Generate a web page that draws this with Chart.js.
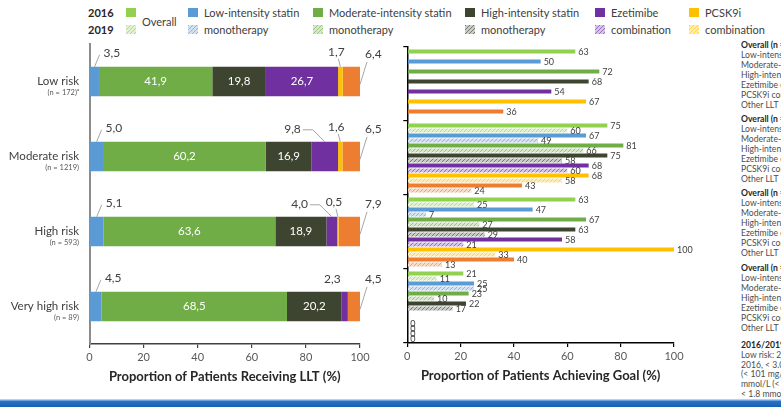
<!DOCTYPE html>
<html>
<head>
<meta charset="utf-8">
<script src="https://cdn.jsdelivr.net/npm/chart.js@4.4.1/dist/chart.umd.min.js"></script>
<style>
  html, body { margin: 0; padding: 0; background: #fff; }
  body { width: 781px; height: 407px; overflow: hidden; position: relative;
         font-family: Lato, "Open Sans", sans-serif; color: #404040; }
  .yr { position: absolute; left: 88px; font-weight: bold; font-size: 11px; color: #262626; line-height: 13px; }
  .sw { position: absolute; width: 10px; height: 9px; }
  .lt { position: absolute; font-size: 11px; line-height: 13px; white-space: nowrap; color: #404040; }
  #leftWrap { position: absolute; left: 0; top: 0; width: 395px; height: 400px; }
  #rightWrap { position: absolute; left: 395px; top: 0; width: 345px; height: 400px; }
  .note { position: absolute; left: 741px; font-size: 8.6px; line-height: 10px; white-space: nowrap; color: #4d4d4d; }
  .note.b { font-weight: bold; color: #262626; }
  #band { position: absolute; left: 0; top: 399px; width: 781px; height: 8px;
          background: linear-gradient(#b3d1f0 0, #b3d1f0 1px, #2a74c6 2px, #1762b5 100%); }
</style>
</head>
<body>
<div id="legend"></div>
<div id="leftWrap"><canvas id="llt" width="395" height="400"></canvas></div>
<div id="rightWrap"><canvas id="goal" width="345" height="400"></canvas></div>
<div id="notes"></div>
<div id="band"></div>

<script>
// ---- categories ----
const riskGroups = ['Low risk', 'Moderate risk', 'High risk', 'Very high risk'];
const groupSizes = ['(n = 172)ᵃ', '(n = 1219)', '(n = 593)', '(n = 89)'];
const therapies = ['Low-intensity statin monotherapy', 'Moderate-intensity statin monotherapy',
                   'High-intensity statin monotherapy', 'Ezetimibe combination',
                   'PCSK9i combination', 'Other LLT'];
const years = ['2016', '2019'];

// ---- share of patients on each therapy (%), per risk group ----
const shareLowIntensity  = [3.5, 5.0, 5.1, 4.5];
const shareModIntensity  = [41.9, 60.2, 63.6, 68.5];
const shareHighIntensity = [19.8, 16.9, 18.9, 20.2];
const shareEzetimibe     = [26.7, 9.8, 4.0, 2.3];
const sharePcsk9i        = [1.7, 1.6, 0.5, 0];
const shareOther         = [6.4, 6.5, 7.9, 4.5];

// ---- patients achieving goal (%), 2016 and 2019, per risk group ----
const goalOverall2016       = [63, 75, 63, 21];
const goalOverall2019       = [null, 60, 25, 11];
const goalLowIntensity2016  = [50, 67, 47, 25];
const goalLowIntensity2019  = [null, 49, 7, 25];
const goalModIntensity2016  = [72, 81, 67, 23];
const goalModIntensity2019  = [null, 66, 27, 10];
const goalHighIntensity2016 = [68, 75, 63, 22];
const goalHighIntensity2019 = [null, 58, 29, 17];
const goalEzetimibe2016     = [54, 68, 58, null];
const goalEzetimibe2019     = [null, 60, 21, null];
const goalPcsk9i2016        = [67, 68, 100, 0];
const goalPcsk9i2019        = [null, 58, 33, 0];
const goalOther2016         = [36, 43, 40, 0];
const goalOther2019         = [null, 24, 13, 0];

// ---- axis ticks ----
const percentTicks = [0, 20, 40, 60, 80, 100];

// ---- colours ----
const colOverall = '#92d050', colLow = '#5b9bd5', colMod = '#70ad47', colHigh = '#3d4530',
      colEze = '#7030a0', colPcsk = '#ffc000', colOther = '#ed7d31';

const FONT = 'Lato, "Open Sans", sans-serif';

// light speckled tile used for the 2019 bars
function hatchTile(color) {
  const c = document.createElement('canvas');
  c.width = 4; c.height = 4;
  const g = c.getContext('2d');
  g.fillStyle = '#fff'; g.fillRect(0, 0, 4, 4);
  g.fillStyle = color;
  g.globalAlpha = 0.28; g.fillRect(0, 0, 4, 4);
  g.globalAlpha = 0.6;
  g.fillRect(0, 0, 1, 1); g.fillRect(2, 2, 1, 1); g.fillRect(1, 3, 1, 1); g.fillRect(3, 1, 1, 1);
  return c;
}

// ---- legend ----
const legendItems = [
  { color: colOverall, lines: ['Overall'], sx: 126 },
  { color: colLow,     lines: ['Low-intensity statin', 'monotherapy'], sx: 188 },
  { color: colMod,     lines: ['Moderate-intensity statin', 'monotherapy'], sx: 313 },
  { color: colHigh,    lines: ['High-intensity statin', 'monotherapy'], sx: 465 },
  { color: colEze,     lines: ['Ezetimibe', 'combination'], sx: 595 },
  { color: colPcsk,    lines: ['PCSK9i', 'combination'], sx: 689 }
];
(function buildLegend() {
  const lg = document.getElementById('legend');
  years.forEach((y, i) => {
    const d = document.createElement('div');
    d.className = 'yr'; d.textContent = y; d.style.top = (i ? 23 : 6) + 'px';
    lg.appendChild(d);
  });
  legendItems.forEach(it => {
    const s1 = document.createElement('div');
    s1.className = 'sw'; s1.style.left = it.sx + 'px'; s1.style.top = '8px'; s1.style.background = it.color;
    const s2 = document.createElement('div');
    s2.className = 'sw'; s2.style.left = it.sx + 'px'; s2.style.top = '25px';
    s2.style.backgroundImage = 'url(' + hatchTile(it.color).toDataURL() + ')';
    lg.appendChild(s1); lg.appendChild(s2);
    if (it.lines.length === 1) {
      const t = document.createElement('div');
      t.className = 'lt'; t.textContent = it.lines[0];
      t.style.left = (it.sx + 16) + 'px'; t.style.top = '15px';
      lg.appendChild(t);
    } else {
      it.lines.forEach((ln, k) => {
        const t = document.createElement('div');
        t.className = 'lt'; t.textContent = ln;
        t.style.left = (it.sx + 16) + 'px'; t.style.top = (k ? 23 : 6) + 'px';
        lg.appendChild(t);
      });
    }
  });
})();

// ---- side notes ----
const noteGroupLines = ['Overall (n = )', 'Low-intensity statin', 'Moderate-intensity statin',
  'High-intensity statin', 'Ezetimibe combination', 'PCSK9i combination', 'Other LLT'];
const noteGroupTops = [40, 114, 188, 263];
const goalNoteLines = ['2016/2019 LDL-C goals', 'Low risk: 2019, < 3.0 mmol/L;', '2016, < 3.0 mmol/L',
  '(< 101 mg/dL); moderate risk', 'mmol/L (< 116 mg/dL); high risk', '< 1.8 mmol/L (< 70 mg/dL)'];
(function buildNotes() {
  const box = document.getElementById('notes');
  noteGroupTops.forEach(top => {
    noteGroupLines.forEach((ln, k) => {
      const d = document.createElement('div');
      d.className = 'note' + (k === 0 ? ' b' : '');
      d.textContent = ln; d.style.top = (top + k * 10) + 'px';
      box.appendChild(d);
    });
  });
  goalNoteLines.forEach((ln, k) => {
    const d = document.createElement('div');
    d.className = 'note' + (k === 0 ? ' b' : '');
    d.textContent = ln; d.style.top = (340 + k * 9.8) + 'px';
    box.appendChild(d);
  });
})();

// ---- left chart: value labels and category labels ----
function fmtComma(v) { return v.toFixed(1).replace('.', ','); }

const lltLabels = {
  id: 'lltLabels',
  afterDatasetsDraw(chart) {
    const ctx = chart.ctx;
    ctx.save();
    ctx.textBaseline = 'middle';
    chart.data.datasets.forEach((ds, i) => {
      const meta = chart.getDatasetMeta(i);
      meta.data.forEach((el, j) => {
        const v = ds.data[j];
        if (!v) return;
        const left = Math.min(el.x, el.base), right = Math.max(el.x, el.base);
        const cx = (left + right) / 2, top = el.y - el.height / 2;
        const txt = fmtComma(v);
        if (v >= 10) {
          ctx.font = '11.5px ' + FONT;
          ctx.fillStyle = '#ffffff'; ctx.textAlign = 'center';
          ctx.fillText(txt, cx, el.y);
          return;
        }
        ctx.strokeStyle = '#a6a6a6'; ctx.lineWidth = 1;
        ctx.font = '12px ' + FONT; ctx.fillStyle = '#404040';
        ctx.beginPath();
        if (i === 0) {
          ctx.moveTo(cx, top); ctx.lineTo(cx + 5, top - 12);
          ctx.stroke();
          ctx.textAlign = 'left'; ctx.fillText(txt, cx + 9, top - 14);
        } else if (i === 3) {
          const nextVal = chart.data.datasets[4].data[j];
          if (nextVal > 0) {
            ctx.moveTo(cx, top); ctx.lineTo(cx - 12, top - 12); ctx.lineTo(cx - 22, top - 12);
            ctx.stroke();
            ctx.textAlign = 'right'; ctx.fillText(txt, cx - 24, top - 13);
          } else {
            ctx.textAlign = 'right'; ctx.fillText(txt, cx - 4, top - 13);
          }
        } else if (i === 4) {
          ctx.moveTo(cx, top); ctx.lineTo(cx - 2, top - 8);
          ctx.stroke();
          ctx.textAlign = 'center'; ctx.fillText(txt, cx - 4, top - 15);
        } else {
          ctx.moveTo(right, top + el.height * 0.6); ctx.lineTo(right + 7, top - 5);
          ctx.stroke();
          ctx.textAlign = 'left'; ctx.fillText(txt, right + 5, top - 13);
        }
      });
    });
    // category labels with group sizes underneath
    const ys = chart.scales.y;
    ctx.textAlign = 'right';
    chart.data.labels.forEach((lab, j) => {
      const y = ys.getPixelForValue(j);
      ctx.fillStyle = '#404040';
      ctx.font = '11.5px ' + FONT;
      ctx.fillText(lab[0], 79, y);
      ctx.fillStyle = '#595959';
      ctx.font = '7.5px ' + FONT;
      ctx.fillText(lab[1], 79, y + 11);
    });
    ctx.restore();
  }
};

const shareSeries = [shareLowIntensity, shareModIntensity, shareHighIntensity, shareEzetimibe, sharePcsk9i, shareOther];
const shareColors = [colLow, colMod, colHigh, colEze, colPcsk, colOther];

new Chart(document.getElementById('llt'), {
  type: 'bar',
  data: {
    labels: riskGroups.map((g, i) => [g, groupSizes[i]]),
    datasets: shareSeries.map((d, i) => ({
      label: therapies[i], data: d, backgroundColor: shareColors[i], borderWidth: 0
    }))
  },
  options: {
    indexAxis: 'y', responsive: false, animation: false,
    layout: { padding: { left: 0, right: 35, top: 44, bottom: 11 } },
    plugins: { legend: { display: false }, tooltip: { enabled: false } },
    datasets: { bar: { categoryPercentage: 0.8, barPercentage: 0.49 } },
    scales: {
      x: {
        stacked: true, min: 0, max: 100,
        afterBuildTicks(s) { s.ticks = percentTicks.map(v => ({ value: v })); },
        ticks: { color: '#595959', font: { family: FONT, size: 11 }, padding: 3 },
        grid: { drawOnChartArea: false, drawTicks: true, tickLength: 4, color: '#404040', lineWidth: 1.2 },
        border: { color: '#404040', width: 1.5 },
        title: { display: true, text: 'Proportion of Patients Receiving LLT (%)', color: '#262626',
                 font: { family: FONT, size: 13, weight: 'bold' }, padding: { top: 0, bottom: 4 } },
        afterFit(s) { s.height = 45; }
      },
      y: {
        stacked: true,
        ticks: { display: false },
        grid: { display: false },
        border: { color: '#8c8c8c', width: 2 },
        afterFit(s) { s.width = 89.5; }
      }
    }
  },
  plugins: [lltLabels]
});

// ---- right chart ----
const goalCanvas = document.getElementById('goal');
const gctx = goalCanvas.getContext('2d');
const goalNames = ['Overall', ...therapies];
const goalColors = [colOverall, colLow, colMod, colHigh, colEze, colPcsk, colOther];
const goal2016 = [goalOverall2016, goalLowIntensity2016, goalModIntensity2016, goalHighIntensity2016,
                  goalEzetimibe2016, goalPcsk9i2016, goalOther2016];
const goal2019 = [goalOverall2019, goalLowIntensity2019, goalModIntensity2019, goalHighIntensity2019,
                  goalEzetimibe2019, goalPcsk9i2019, goalOther2019];

const goalDatasets = [];
goalNames.forEach((n, k) => {
  goalDatasets.push({ label: n + ' ' + years[0], data: goal2016[k], backgroundColor: goalColors[k], borderWidth: 0 });
  goalDatasets.push({ label: n + ' ' + years[1], data: goal2019[k],
                      backgroundColor: gctx.createPattern(hatchTile(goalColors[k]), 'repeat'), borderWidth: 0 });
});

const goalLabels = {
  id: 'goalLabels',
  afterDatasetsDraw(chart) {
    const ctx = chart.ctx;
    ctx.save();
    ctx.font = '9px ' + FONT; ctx.fillStyle = '#404040';
    ctx.textAlign = 'left'; ctx.textBaseline = 'middle';
    chart.data.datasets.forEach((ds, i) => {
      chart.getDatasetMeta(i).data.forEach((el, j) => {
        const v = ds.data[j];
        if (v === null || v === undefined) return;
        ctx.fillText(String(v), el.x + 3, el.y + 1);
      });
    });
    ctx.restore();
  }
};

new Chart(goalCanvas, {
  type: 'bar',
  data: { labels: riskGroups, datasets: goalDatasets },
  options: {
    indexAxis: 'y', responsive: false, animation: false,
    layout: { padding: { left: 0, right: 66, top: 47, bottom: 12 } },
    plugins: { legend: { display: false }, tooltip: { enabled: false } },
    datasets: { bar: { categoryPercentage: 0.946, barPercentage: 0.8, skipNull: false } },
    scales: {
      x: {
        min: 0, max: 100,
        afterBuildTicks(s) { s.ticks = percentTicks.map(v => ({ value: v })); },
        ticks: { color: '#595959', font: { family: FONT, size: 11 }, padding: 3 },
        grid: { drawOnChartArea: false, drawTicks: true, tickLength: 4, color: '#000', lineWidth: 1.2 },
        border: { color: '#000', width: 1.5 },
        title: { display: true, text: 'Proportion of Patients Achieving Goal (%)', color: '#262626',
                 font: { family: FONT, size: 13, weight: 'bold' }, padding: { top: 0, bottom: 4 } },
        afterFit(s) { s.height = 45; }
      },
      y: {
        ticks: { display: false },
        grid: { offset: true, drawOnChartArea: false, drawTicks: true, tickLength: 4, color: '#000', lineWidth: 1.2 },
        border: { color: '#000', width: 1.5 },
        afterFit(s) { s.width = 12.3; }
      }
    }
  },
  plugins: [goalLabels]
});
</script>
</body>
</html>
